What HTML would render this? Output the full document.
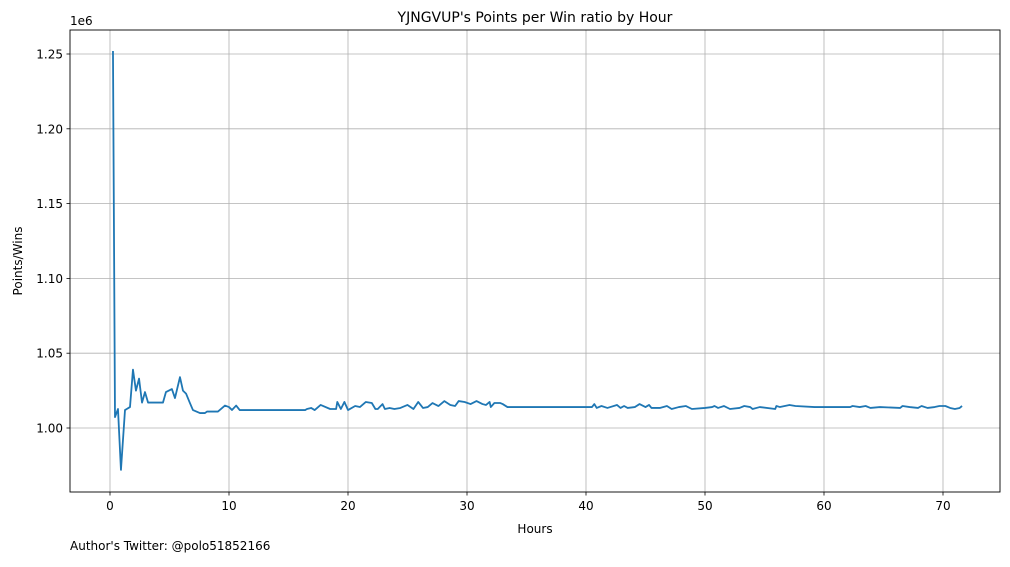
<!DOCTYPE html>
<html><head><meta charset="utf-8"><style>
body{margin:0;background:#fff;font-family:"Liberation Sans","DejaVu Sans",sans-serif;}
svg text{font-family:"DejaVu Sans","Liberation Sans",sans-serif;}
</style></head><body>
<svg id="c" width="1010" height="562" xmlns="http://www.w3.org/2000/svg">
<rect width="1010" height="562" fill="#fff"/>
<text x="535" y="22" font-size="14" text-anchor="middle">YJNGVUP's Points per Win ratio by Hour</text>
<text x="535" y="533" font-size="12" text-anchor="middle">Hours</text>
<text x="22" y="261" font-size="12" text-anchor="middle" transform="rotate(-90 22 261)">Points/Wins</text>
<text x="70" y="550" font-size="12">Author's Twitter: @polo51852166</text>
<text x="70" y="25" font-size="12">1e6</text>
<g id="grid"></g><g id="ticks"></g>
<polyline id="line" fill="none" stroke="#1f77b4" stroke-width="1.8" stroke-linejoin="round"/>
<rect x="70" y="30" width="930" height="462" fill="none" stroke="#000" stroke-width="0.9"/>
</svg>
<script>
const hours=[0.25,0.42,0.67,0.92,1.26,1.68,1.93,2.18,2.44,2.69,2.94,3.2,4.45,4.7,5.2,5.46,5.88,6.13,6.39,6.7,6.97,7.56,7.98,8.15,8.4,9.07,9.66,10,10.25,10.6,10.9,16.4,16.55,16.9,17.2,17.7,18.5,19.0,19.1,19.4,19.7,20.0,20.6,21.0,21.5,22.0,22.3,22.5,22.9,23.1,23.5,23.9,24.4,25.0,25.5,25.9,26.3,26.7,27.1,27.6,28.1,28.6,29.0,29.3,29.8,30.3,30.8,31.3,31.6,31.9,32.0,32.3,32.8,33.0,33.4,33.6,40.5,40.7,40.9,41.3,41.8,42.6,42.9,43.2,43.5,44.1,44.5,45.0,45.3,45.5,46.2,46.8,47.2,47.8,48.4,48.9,50.0,50.6,50.8,51.1,51.6,52.1,52.9,53.3,53.8,54.0,54.6,55.9,56.0,56.3,57.1,57.6,59.2,62.2,62.4,63.0,63.5,63.9,64.7,66.4,66.6,67.2,67.9,68.2,68.7,69.3,69.7,70.2,70.6,71.0,71.4,71.6];
const ratios=[1.252,1.0073,1.0127,0.972,1.012,1.014,1.039,1.025,1.033,1.017,1.024,1.017,1.017,1.024,1.026,1.020,1.034,1.025,1.023,1.017,1.012,1.010,1.010,1.011,1.011,1.011,1.015,1.014,1.012,1.015,1.012,1.012,1.0127,1.0134,1.0120,1.0154,1.0127,1.0127,1.0174,1.0127,1.0174,1.0120,1.0147,1.0140,1.0174,1.0167,1.0127,1.0127,1.0160,1.0127,1.0134,1.0127,1.0134,1.0154,1.0127,1.0174,1.0134,1.0140,1.0167,1.0147,1.0180,1.0154,1.0147,1.0180,1.0174,1.0160,1.0180,1.0160,1.0154,1.0174,1.0140,1.0167,1.0167,1.0160,1.0140,1.0140,1.0140,1.0160,1.0134,1.0147,1.0134,1.0154,1.0134,1.0147,1.0134,1.0140,1.0160,1.0140,1.0154,1.0134,1.0134,1.0147,1.0127,1.0140,1.0147,1.0127,1.0134,1.0140,1.0147,1.0134,1.0147,1.0127,1.0134,1.0147,1.0140,1.0127,1.0140,1.0127,1.0147,1.0140,1.0154,1.0147,1.0140,1.0140,1.0147,1.0140,1.0147,1.0134,1.0140,1.0134,1.0147,1.0140,1.0134,1.0147,1.0134,1.0140,1.0147,1.0147,1.0134,1.0127,1.0134,1.0147];
const xTicks=[0,10,20,30,40,50,60,70];
const yTicks=[1.00,1.05,1.10,1.15,1.20,1.25];
const X=h=>110+h*11.9, Y=v=>428-(v-1)*1496;
const NS="http://www.w3.org/2000/svg";
const g=document.getElementById('grid'), t=document.getElementById('ticks');
function mk(tag,attrs,parent,txt){const e=document.createElementNS(NS,tag);for(const k in attrs)e.setAttribute(k,attrs[k]);if(txt!==undefined)e.textContent=txt;parent.appendChild(e);return e;}
xTicks.forEach(v=>{const x=X(v);
 const gl=mk('line',{x1:x,x2:x,y1:30,y2:492,stroke:'#b0b0b0','stroke-width':0.8},g);
 
 
 mk('line',{x1:x,x2:x,y1:492,y2:495.5,stroke:'#000','stroke-width':0.8},t);
 const tl=mk('text',{x:x,y:510,'font-size':12,'text-anchor':'middle'},t,String(v));
 
 
});
yTicks.forEach(v=>{const y=Y(v);
 const gl=mk('line',{x1:70,x2:1000,y1:y,y2:y,stroke:'#b0b0b0','stroke-width':0.8},g);
 
 
 mk('line',{x1:66.5,x2:70,y1:y,y2:y,stroke:'#000','stroke-width':0.8},t);
 const tl=mk('text',{x:63,y:y+4.5,'font-size':12,'text-anchor':'end'},t,v.toFixed(2));
 
 
});
document.getElementById('line').setAttribute('points',hours.map((h,i)=>X(h)+','+Y(ratios[i])).join(' '));
</script>
</body></html>
